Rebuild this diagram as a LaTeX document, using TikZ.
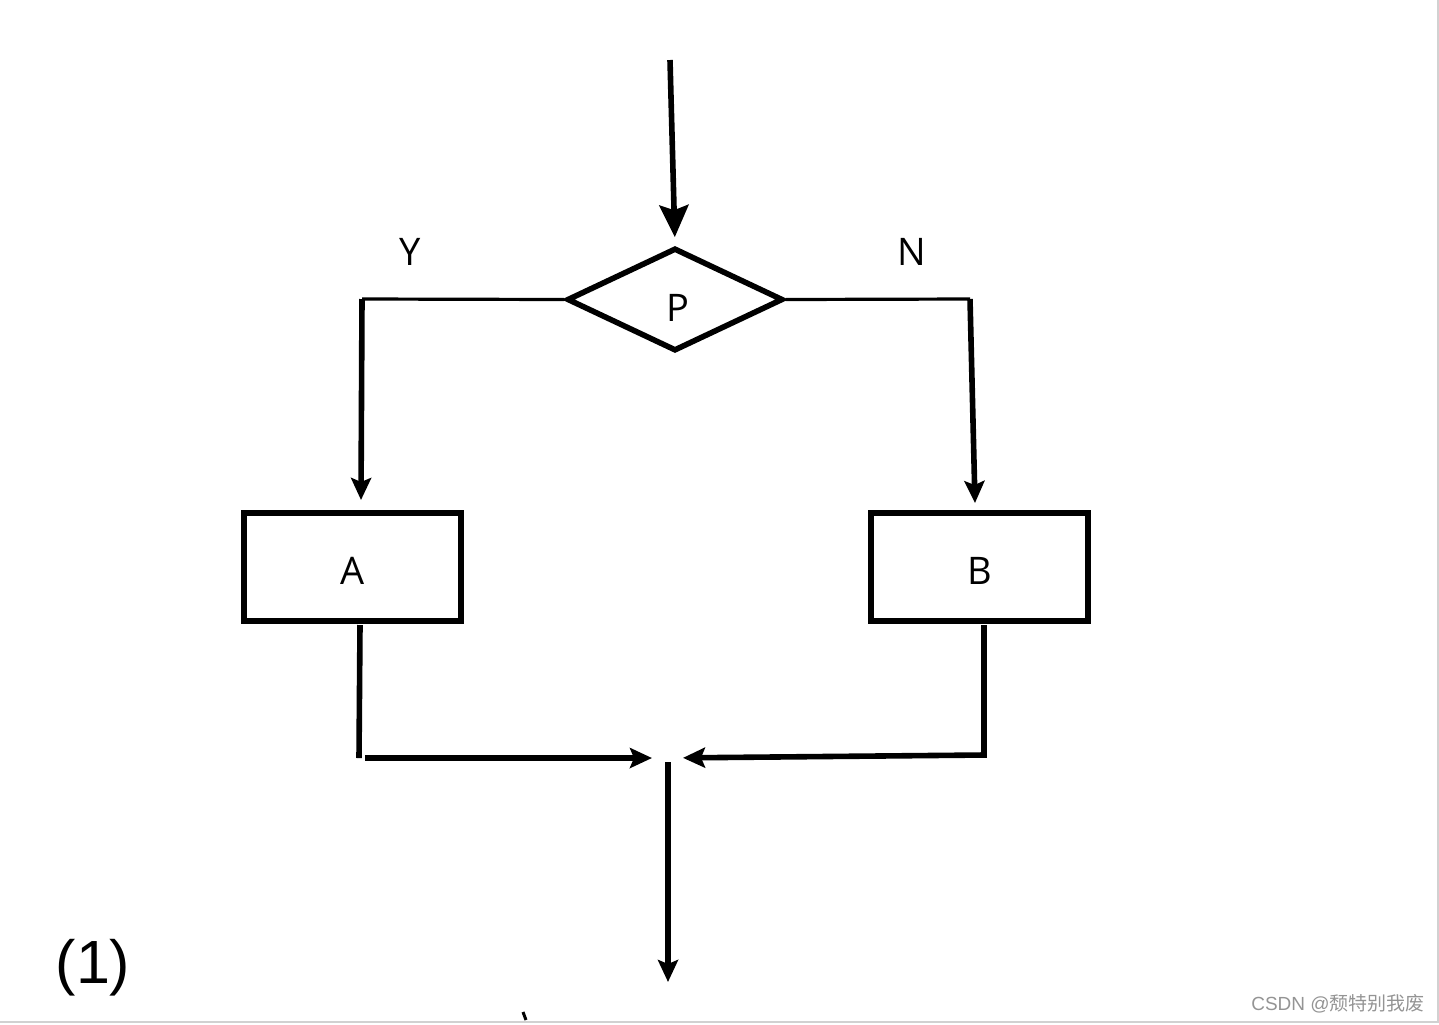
\documentclass[tikz,border=0pt]{standalone}
\usepackage{fontspec}
\setmainfont{Open Sans}
\newfontfamily\armfont{Liberation Sans}
\newfontfamily\cjkfont{Noto Sans CJK SC}
\usetikzlibrary{shapes.geometric,arrows.meta}
\begin{document}
\begin{tikzpicture}[x=0.5pt,y=-0.5pt,
  main/.style={line width=2.8pt},
  thinl/.style={line width=1.6pt},
  bigtip/.style={-{Stealth[length=16pt,width=14.5pt,inset=2.5pt]}},
  smalltip/.style={-{Stealth[length=11pt,width=10pt,inset=2pt]}},
  procbox/.style={draw,line width=3.2pt,minimum width=108.5pt,minimum height=54pt,inner sep=0pt,text height=17.6pt,text depth=0pt,font=\fontsize{19}{22}\selectfont},
  lbl/.style={font=\fontsize{19}{22}\selectfont,inner sep=0pt},
  ]
\useasboundingbox (0,0) rectangle (1439,1024);
\draw[line width=1pt, black!18] (0,1022) -- (1438,1022) -- (1438,0);

% decision
\node[draw, diamond, main, minimum width=108pt, minimum height=51.5pt, inner sep=0pt] (P) at (675,299.5) {};
\node[lbl] (Pt) at (678,308) {P};

% entry arrow
\coordinate (in) at (670,60);
\draw[main,bigtip,shorten >=4pt] (in) -- (P.north);

% branch labels
\node[lbl] (Y) at (410,252) {Y};
\node[lbl] (N) at (912,252) {N};

% boxes
\node[procbox] (A) at (352.5,567) {A};
\node[procbox] (B) at (979.5,567) {B};

% left branch
\coordinate (yc) at (362,299);
\coordinate (ya) at (361,500);
\draw[thinl] (P.west) -- (yc);
\draw[main,smalltip] (yc) -- (ya);

% right branch
\coordinate (nc) at (970,299);
\coordinate (na) at (975,503);
\draw[thinl] (P.east) -- (nc);
\draw[main,smalltip] (nc) -- (na);

% merge
\coordinate (a1) at (360,625);
\coordinate (a2) at (359,758);
\coordinate (a3) at (365,758);
\coordinate (m) at (668,758);
\draw[main] (a1) -- (a2);
\draw[main,smalltip,shorten >=8pt] (a3) -- (m);

\coordinate (b1) at (984,625);
\coordinate (b2) at (984,755);
\draw[main,smalltip,shorten >=7.5pt] (b1) -- (b2) -- (m);

\coordinate (out) at (668,982);
\draw[main,smalltip,shorten <=2pt] (m) -- (out);

% caption
\node[font=\armfont\fontsize{30.5}{34}\selectfont, inner sep=0pt] (lab) at (93,968) {(1)};

% small mark
\coordinate (t1) at (523,1012);
\coordinate (t2) at (526,1020);
\draw[line width=1.5pt] (t1) -- (t2);

% watermark
\node[font=\fontsize{9.5}{11}\selectfont, text=black!42, inner sep=0pt] (wm) at (1338,1004) {{\armfont CSDN @}{\cjkfont 颓特别我废}};
\end{tikzpicture}
\end{document}
